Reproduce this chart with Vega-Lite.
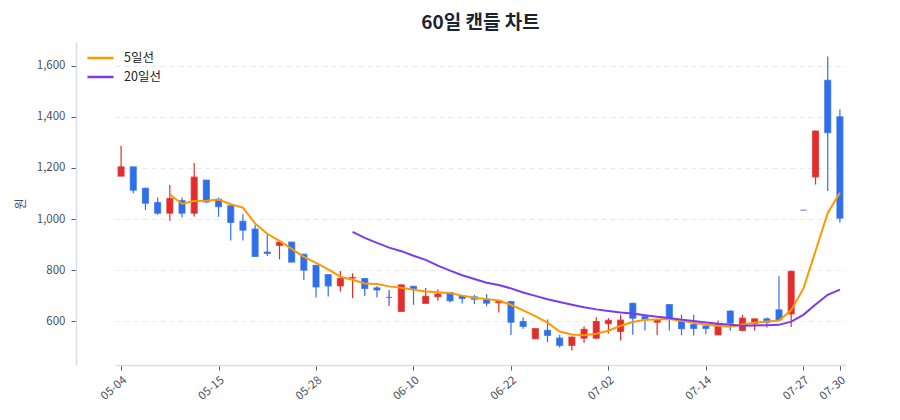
{
  "$schema": "https://vega.github.io/schema/vega-lite/v6.json",
  "description": "60-day candle chart with 5 and 20 day moving averages.",
  "width": 809,
  "height": 323,
  "autosize": {"type": "none"},
  "padding": {"left": 76, "top": 42, "right": 15, "bottom": 55},
  "background": "white",
  "title": {
    "text": "60일 캔들 차트",
    "fontSize": 19,
    "fontWeight": "bold",
    "color": "#1b2333",
    "anchor": "middle",
    "offset": 9
  },
  "config": {
    "font": "Noto Sans CJK KR",
    "view": {"stroke": null},
    "axis": {
      "domainColor": "#d9dde4",
      "domainWidth": 1.5,
      "tickColor": "#555b66",
      "tickSize": 5,
      "labelColor": "#4a5060",
      "labelFontSize": 11.5,
      "titleColor": "#4a5060",
      "titleFontWeight": "normal"
    }
  },
  "data": {
    "values": [
      {"d": "05-04", "o": 1168, "h": 1286, "l": 1168, "c": 1204, "dir": "up", "ma5": null, "ma20": null},
      {"d": "05-06", "o": 1204, "h": 1204, "l": 1101, "c": 1113, "dir": "down", "ma5": null, "ma20": null},
      {"d": "05-07", "o": 1120, "h": 1123, "l": 1035, "c": 1062, "dir": "down", "ma5": null, "ma20": null},
      {"d": "05-08", "o": 1065, "h": 1084, "l": 1017, "c": 1023, "dir": "down", "ma5": null, "ma20": null},
      {"d": "05-11", "o": 1023, "h": 1133, "l": 994, "c": 1080, "dir": "up", "ma5": 1096.4, "ma20": null},
      {"d": "05-12", "o": 1072, "h": 1084, "l": 1006, "c": 1023, "dir": "down", "ma5": 1060.2, "ma20": null},
      {"d": "05-13", "o": 1023, "h": 1219, "l": 1010, "c": 1164, "dir": "up", "ma5": 1070.4, "ma20": null},
      {"d": "05-14", "o": 1152, "h": 1152, "l": 1062, "c": 1067, "dir": "down", "ma5": 1071.4, "ma20": null},
      {"d": "05-15", "o": 1077, "h": 1084, "l": 1009, "c": 1049, "dir": "down", "ma5": 1076.6, "ma20": null},
      {"d": "05-18", "o": 1052, "h": 1055, "l": 916, "c": 987, "dir": "down", "ma5": 1058, "ma20": null},
      {"d": "05-19", "o": 991, "h": 1019, "l": 916, "c": 957, "dir": "down", "ma5": 1044.8, "ma20": null},
      {"d": "05-20", "o": 961, "h": 977, "l": 854, "c": 854, "dir": "down", "ma5": 982.8, "ma20": null},
      {"d": "05-21", "o": 871, "h": 942, "l": 856, "c": 866, "dir": "down", "ma5": 942.6, "ma20": null},
      {"d": "05-22", "o": 897, "h": 912, "l": 843, "c": 910, "dir": "up", "ma5": 914.8, "ma20": null},
      {"d": "05-26", "o": 910, "h": 912, "l": 832, "c": 832, "dir": "down", "ma5": 883.8, "ma20": null},
      {"d": "05-27", "o": 862, "h": 865, "l": 762, "c": 801, "dir": "down", "ma5": 852.6, "ma20": null},
      {"d": "05-28", "o": 819, "h": 819, "l": 694, "c": 735, "dir": "down", "ma5": 828.8, "ma20": null},
      {"d": "05-29", "o": 783, "h": 783, "l": 698, "c": 739, "dir": "down", "ma5": 803.4, "ma20": null},
      {"d": "06-01", "o": 739, "h": 797, "l": 717, "c": 768, "dir": "up", "ma5": 775, "ma20": null},
      {"d": "06-02", "o": 770, "h": 788, "l": 691, "c": 772, "dir": "up", "ma5": 763, "ma20": 950.3},
      {"d": "06-04", "o": 768, "h": 770, "l": 700, "c": 729, "dir": "down", "ma5": 748.6, "ma20": 926.6},
      {"d": "06-05", "o": 731, "h": 738, "l": 694, "c": 723, "dir": "down", "ma5": 746.2, "ma20": 907.1},
      {"d": "06-08", "o": 694, "h": 723, "l": 661, "c": 694, "dir": "flat", "ma5": 737.2, "ma20": 888.7},
      {"d": "06-09", "o": 639, "h": 745, "l": 639, "c": 743, "dir": "up", "ma5": 732.2, "ma20": 874.7},
      {"d": "06-10", "o": 737, "h": 739, "l": 665, "c": 729, "dir": "down", "ma5": 723.6, "ma20": 857.1},
      {"d": "06-11", "o": 671, "h": 731, "l": 671, "c": 698, "dir": "up", "ma5": 717.4, "ma20": 840.9},
      {"d": "06-12", "o": 697, "h": 725, "l": 681, "c": 707, "dir": "up", "ma5": 714.2, "ma20": 818},
      {"d": "06-15", "o": 713, "h": 715, "l": 674, "c": 681, "dir": "down", "ma5": 711.6, "ma20": 798.7},
      {"d": "06-16", "o": 700, "h": 702, "l": 670, "c": 690, "dir": "down", "ma5": 701, "ma20": 780.8},
      {"d": "06-17", "o": 696, "h": 704, "l": 668, "c": 687, "dir": "down", "ma5": 692.6, "ma20": 765.8},
      {"d": "06-18", "o": 687, "h": 707, "l": 659, "c": 672, "dir": "down", "ma5": 687.4, "ma20": 751.5},
      {"d": "06-19", "o": 674, "h": 683, "l": 635, "c": 681, "dir": "up", "ma5": 682.2, "ma20": 742.9},
      {"d": "06-22", "o": 678, "h": 680, "l": 547, "c": 597, "dir": "down", "ma5": 665.4, "ma20": 729.4},
      {"d": "06-23", "o": 600, "h": 617, "l": 572, "c": 581, "dir": "down", "ma5": 643.6, "ma20": 713},
      {"d": "06-24", "o": 533, "h": 572, "l": 533, "c": 572, "dir": "up", "ma5": 620.6, "ma20": 700},
      {"d": "06-25", "o": 565, "h": 608, "l": 520, "c": 546, "dir": "down", "ma5": 595.4, "ma20": 687.2},
      {"d": "06-26", "o": 535, "h": 548, "l": 497, "c": 507, "dir": "down", "ma5": 560.6, "ma20": 675.8},
      {"d": "06-29", "o": 507, "h": 541, "l": 487, "c": 539, "dir": "up", "ma5": 549, "ma20": 665.8},
      {"d": "06-30", "o": 535, "h": 581, "l": 517, "c": 569, "dir": "up", "ma5": 546.6, "ma20": 655.9},
      {"d": "07-01", "o": 535, "h": 617, "l": 531, "c": 600, "dir": "up", "ma5": 552.2, "ma20": 647.3},
      {"d": "07-02", "o": 592, "h": 613, "l": 553, "c": 604, "dir": "up", "ma5": 563.8, "ma20": 641},
      {"d": "07-03", "o": 561, "h": 626, "l": 526, "c": 605, "dir": "up", "ma5": 583.4, "ma20": 635.1},
      {"d": "07-06", "o": 671, "h": 673, "l": 548, "c": 613, "dir": "down", "ma5": 598.2, "ma20": 631.1},
      {"d": "07-07", "o": 619, "h": 625, "l": 565, "c": 610, "dir": "down", "ma5": 606.4, "ma20": 624.4},
      {"d": "07-08", "o": 597, "h": 608, "l": 546, "c": 606, "dir": "up", "ma5": 607.6, "ma20": 618.3},
      {"d": "07-09", "o": 666, "h": 668, "l": 565, "c": 613, "dir": "down", "ma5": 609.4, "ma20": 614},
      {"d": "07-10", "o": 601, "h": 626, "l": 546, "c": 572, "dir": "down", "ma5": 602.8, "ma20": 607.3},
      {"d": "07-13", "o": 588, "h": 626, "l": 545, "c": 573, "dir": "down", "ma5": 594.8, "ma20": 601.9},
      {"d": "07-14", "o": 582, "h": 591, "l": 550, "c": 573, "dir": "down", "ma5": 587.4, "ma20": 596},
      {"d": "07-15", "o": 548, "h": 604, "l": 548, "c": 587, "dir": "up", "ma5": 583.6, "ma20": 591},
      {"d": "07-16", "o": 641, "h": 643, "l": 564, "c": 594, "dir": "down", "ma5": 579.8, "ma20": 587.1},
      {"d": "07-20", "o": 565, "h": 626, "l": 562, "c": 613, "dir": "up", "ma5": 588, "ma20": 583.7},
      {"d": "07-21", "o": 591, "h": 612, "l": 565, "c": 610, "dir": "up", "ma5": 595.4, "ma20": 584.4},
      {"d": "07-22", "o": 610, "h": 616, "l": 577, "c": 597, "dir": "down", "ma5": 600.2, "ma20": 585.2},
      {"d": "07-23", "o": 645, "h": 777, "l": 604, "c": 606, "dir": "down", "ma5": 604, "ma20": 586.9},
      {"d": "07-24", "o": 630, "h": 798, "l": 578, "c": 796, "dir": "up", "ma5": 644.4, "ma20": 599.4},
      {"d": "07-27", "o": 1035, "h": 1035, "l": 1035, "c": 1035, "dir": "flat", "ma5": 728.8, "ma20": 625.8},
      {"d": "07-28", "o": 1165, "h": 1346, "l": 1135, "c": 1344, "dir": "up", "ma5": 875.6, "ma20": 666},
      {"d": "07-29", "o": 1542, "h": 1635, "l": 1110, "c": 1338, "dir": "down", "ma5": 1023.8, "ma20": 704.5},
      {"d": "07-30", "o": 1400, "h": 1428, "l": 987, "c": 1004, "dir": "down", "ma5": 1103.4, "ma20": 724.7}
    ]
  },
  "encoding": {
    "x": {
      "field": "d",
      "type": "ordinal",
      "sort": null,
      "scale": {"type": "point", "range": [39, 770]},
      "axis": {
        "title": null,
        "values": ["05-04", "05-15", "05-28", "06-10", "06-22", "07-02", "07-14", "07-27", "07-30"],
        "labelAngle": -40,
        "labelAlign": "right",
        "labelBaseline": "top",
        "labelPadding": 4,
        "grid": false
      }
    }
  },
  "layer": [
    {
      "layer": [
        {
          "mark": {"type": "rule", "strokeWidth": 1.2},
          "encoding": {
            "y": {
              "field": "l",
              "type": "quantitative",
              "scale": {"domain": [430, 1692], "zero": false, "nice": false},
              "axis": {
                "title": "원",
                "titleFontSize": 12,
                "titlePadding": 9,
                "values": [600, 800, 1000, 1200, 1400, 1600],
                "format": ",d",
                "labelPadding": 6,
                "grid": true,
                "gridColor": "#e6e8ec",
                "gridDash": [5, 4],
                "gridWidth": 1
              }
            },
            "y2": {"field": "h"},
            "color": {
              "field": "dir",
              "type": "nominal",
              "scale": {"domain": ["up", "down", "flat"], "range": ["#e02d2d", "#2f6fea", "#5a50e0"]},
              "legend": null
            }
          }
        },
        {
          "mark": {"type": "bar", "size": 6, "strokeWidth": 1.2, "strokeOpacity": 0.7},
          "encoding": {
            "y": {
              "field": "o",
              "type": "quantitative",
              "axis": {
                "title": "원",
                "titleFontSize": 12,
                "titlePadding": 9,
                "values": [600, 800, 1000, 1200, 1400, 1600],
                "format": ",d",
                "labelPadding": 6,
                "grid": true,
                "gridColor": "#e6e8ec",
                "gridDash": [5, 4],
                "gridWidth": 1
              }
            },
            "y2": {"field": "c"},
            "color": {"field": "dir", "type": "nominal", "legend": null},
            "stroke": {
              "field": "dir",
              "type": "nominal",
              "scale": {"domain": ["up", "down", "flat"], "range": ["#e02d2d", "#2f6fea", "#5a50e0"]},
              "legend": null
            }
          }
        }
      ]
    },
    {
      "layer": [
        {
          "mark": {"type": "line", "strokeWidth": 2},
          "encoding": {
            "y": {
              "field": "ma5",
              "type": "quantitative",
              "axis": {
                "title": "원",
                "titleFontSize": 12,
                "titlePadding": 9,
                "values": [600, 800, 1000, 1200, 1400, 1600],
                "format": ",d",
                "labelPadding": 6,
                "grid": true,
                "gridColor": "#e6e8ec",
                "gridDash": [5, 4],
                "gridWidth": 1
              }
            },
            "color": {"datum": "5일선"}
          }
        },
        {
          "mark": {"type": "line", "strokeWidth": 2},
          "encoding": {
            "y": {
              "field": "ma20",
              "type": "quantitative",
              "axis": {
                "title": "원",
                "titleFontSize": 12,
                "titlePadding": 9,
                "values": [600, 800, 1000, 1200, 1400, 1600],
                "format": ",d",
                "labelPadding": 6,
                "grid": true,
                "gridColor": "#e6e8ec",
                "gridDash": [5, 4],
                "gridWidth": 1
              }
            },
            "color": {"datum": "20일선"}
          }
        }
      ],
      "encoding": {
        "color": {
          "type": "nominal",
          "scale": {"domain": ["5일선", "20일선"], "range": ["#ff9900", "#7c3aed"]},
          "legend": {
            "title": null,
            "orient": "none",
            "legendX": 10,
            "legendY": 8,
            "padding": 0,
            "symbolType": "stroke",
            "symbolSize": 680,
            "symbolStrokeWidth": 2.5,
            "clipHeight": 16,
            "rowPadding": 3,
            "labelFontSize": 12.5,
            "labelColor": "#222222",
            "labelOffset": 9
          }
        }
      }
    }
  ],
  "resolve": {"scale": {"color": "independent"}}
}
